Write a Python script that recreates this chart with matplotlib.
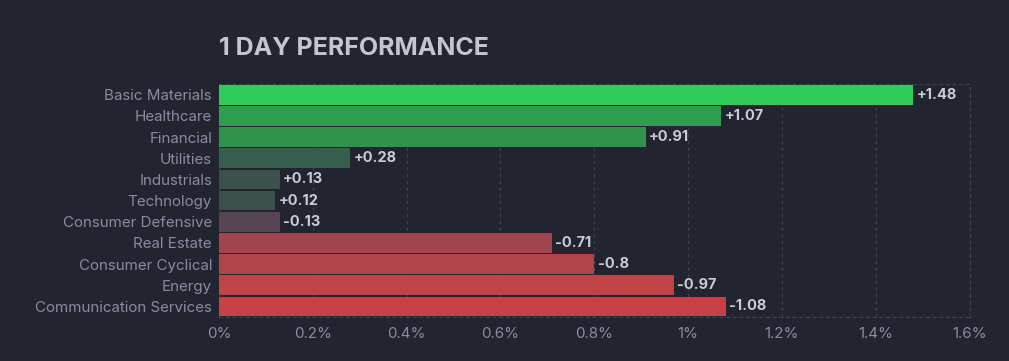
import matplotlib.pyplot as plt
from matplotlib.ticker import FuncFormatter

# data, top to bottom
sectors = ["Basic Materials", "Healthcare", "Financial", "Utilities", "Industrials",
           "Technology", "Consumer Defensive", "Real Estate", "Consumer Cyclical",
           "Energy", "Communication Services"]
changes = [1.48, 1.07, 0.91, 0.28, 0.13, 0.12, -0.13, -0.71, -0.8, -0.97, -1.08]
bar_colors = ["#30cc5a", "#2f9e4f", "#2f924d", "#355f4c", "#3a524b", "#3a524b",
              "#564452", "#a0444d", "#b0444b", "#bf4347", "#c93f45"]
xticks = [0, 0.2, 0.4, 0.6, 0.8, 1.0, 1.2, 1.4, 1.6]

bg = "#22252f"
grid_c = "#3d4150"
label_c = "#878ca3"
value_c = "#c9ccd6"

plt.rcParams["font.family"] = ["Inter", "DejaVu Sans"]

fig = plt.figure(figsize=(10.09, 3.61), dpi=100, facecolor=bg)
ax = fig.add_axes([0.217, 0.122, 0.744, 0.645], facecolor=bg)

pos = list(range(len(sectors)))
mags = [abs(v) for v in changes]
ax.barh(pos, mags, height=0.93, color=bar_colors, zorder=3)

for p, v, m in zip(pos, changes, mags):
    txt = f"{v:+}" if v > 0 else f"{v}"
    ax.text(m + 0.007, p, txt, va="center", ha="left", fontsize=10.5,
            fontweight="bold", color=value_c, zorder=4)

ax.set_ylim(len(sectors) - 0.5, -0.5)
ax.set_xlim(0, 1.6)
ax.set_yticks(pos)
ax.set_yticklabels(sectors)
ax.set_xticks(xticks)
ax.xaxis.set_major_formatter(FuncFormatter(lambda x, _: f"{x:g}%"))
ax.tick_params(axis="both", length=0, colors=label_c, labelsize=10.9)
ax.tick_params(axis="y", pad=5)
ax.tick_params(axis="x", pad=7)

ax.grid(axis="x", color=grid_c, linestyle=(0, (3, 3)), linewidth=0.8, zorder=0)
for s in ["top", "bottom", "right", "left"]:
    ax.spines[s].set_color(grid_c)
    ax.spines[s].set_linestyle((0, (3, 3)))
    ax.spines[s].set_linewidth(0.8)

fig.text(0.217, 0.865, "1 DAY PERFORMANCE", fontsize=18, fontweight="bold",
         color="#c3c6d2", ha="left", va="center")

fig.savefig("out.png", dpi=100, facecolor=bg)
